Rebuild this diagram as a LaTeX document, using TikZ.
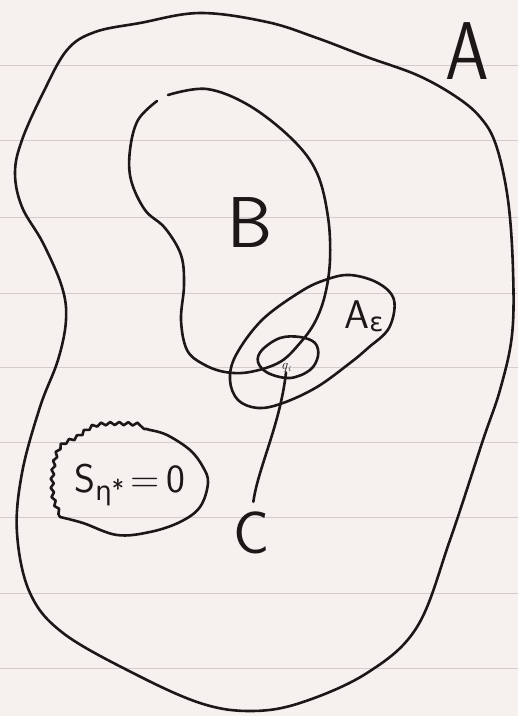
\documentclass[tikz,border=0pt]{standalone}
\usepackage{fontspec}
\newfontfamily\grk{DejaVu Sans}
\usepackage{tikz}
\usetikzlibrary{decorations.pathmorphing}
\definecolor{vink}{HTML}{1C1818}
\definecolor{vpaper}{HTML}{F6F1EF}
\definecolor{vrule}{HTML}{D4CCCC}
\newcommand{\lowsub}[2]{\raisebox{#1}{\fontsize{26}{26}\selectfont #2}}
\tikzset{
  bound/.style={draw=vink,line width=2.6pt,line cap=round,line join=round},
  fuzzy/.style={bound,decorate,decoration={snake,amplitude=1.6pt,segment length=9pt}},
  lbl/.style={text=vink,inner sep=0pt,font=\sffamily},
  ruling/.style={draw=vrule,line width=1pt},
}
\begin{document}
\begin{tikzpicture}[x=1pt,y=-1pt]
  \fill[vpaper] (0,0) rectangle (518,716);
  \useasboundingbox (0,0) rectangle (518,716);
  % notebook rules
  \foreach \yy in {65,140,217,293,367,442,517,593,668}
    \draw[ruling] (0,\yy) -- (518,\yy);
  % region A
  \draw[bound] plot[smooth cycle,tension=0.6] coordinates {
    (200,13) (267,22) (317,38) (367,57) (417,75) (455,96) (480,117) (496,145)
    (508,200) (513,270) (512,335) (500,390) (483,440) (450,540) (417,627)
    (367,673) (300,703) (250,711) (200,703) (133,673) (63,633) (30,593)
    (17,533) (22,473) (40,407) (58,360) (66,320) (62,287) (43,243) (22,207)
    (15,173) (22,140) (43,93) (67,50) (95,32) (140,23)};
  % region B
  \draw[bound] plot[smooth,tension=0.6] coordinates {
    (168,95) (207,89) (250,106) (293,140) (317,173) (328,217) (330,260)
    (325,295) (315,322) (300,343) (280,362) (250,372) (225,372) (203,364)
    (187,350) (181,320) (184,285) (181,255) (165,228) (145,210) (131,180)
    (130,150) (138,120) (157,101)};
  % A_eps
  \draw[bound] plot[smooth cycle,tension=0.6] coordinates {
    (350,275) (378,283) (394,300) (389,328) (368,348) (350,363) (317,387)
    (283,403) (258,408) (238,400) (230,380) (236,355) (262,320) (300,292)
    (325,280)};
  % small neighbourhood
  \draw[bound] plot[smooth cycle,tension=0.6] coordinates {
    (262,350) (280,338) (300,337) (315,343) (318,356) (310,370) (290,378)
    (268,373) (258,362)};
  % S = 0 set
  \draw[fuzzy] plot[smooth,tension=0.6] coordinates {
    (60,517) (53,500) (53,473) (60,450) (77,440) (97,428) (133,427) (150,430)};
  \draw[bound] plot[smooth,tension=0.6] coordinates {
    (150,430) (167,435) (190,450) (203,467) (208,483) (200,507) (180,522)
    (150,532) (117,535) (83,523) (60,517)};
  % labels
  \node[lbl,font=\sffamily\fontsize{82}{82}\selectfont] (labA) at (467,51) {\scalebox{0.85}[1]{A}};
  \node[lbl,font=\sffamily\fontsize{72}{72}\selectfont] (labB) at (250,223) {B};
  \node[lbl,font=\sffamily\fontsize{40}{40}\selectfont] (labAe) at (364,316) {A\lowsub{-3pt}{\grk ε}};
  \node[lbl,font=\sffamily\fontsize{40}{40}\selectfont] (labS) at (130,485) {S\lowsub{-8pt}{\grk η}\lowsub{-6pt}{*}\,=\,0};
  \node[lbl,font=\sffamily\fontsize{60}{60}\selectfont] (labC) at (252,533) {C};
  \node[lbl,font=\fontsize{14}{14}\selectfont] (labq) at (286,368) {\textit{q}\raisebox{-2pt}{\fontsize{8}{8}\selectfont\textit{i}}};
  % curve C
  \draw[bound,shorten >=10pt] (labq.south) .. controls (280,425) and (258,468) .. (labC.north);
\end{tikzpicture}
\end{document}
